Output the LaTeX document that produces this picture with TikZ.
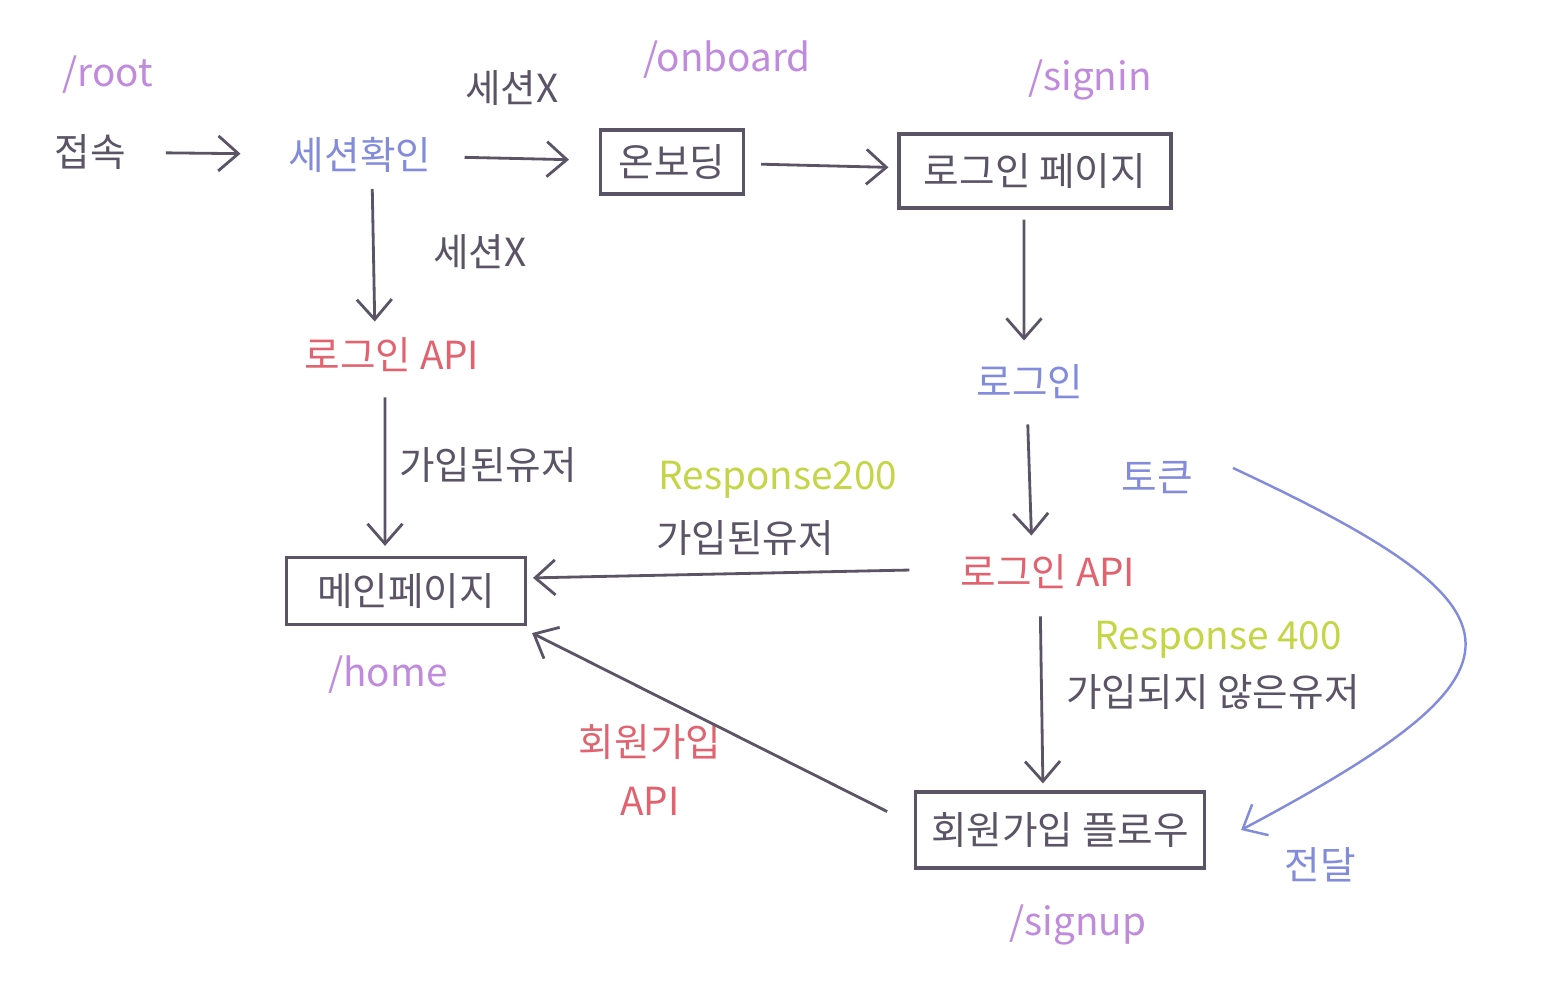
\documentclass[tikz,border=0pt]{standalone}
\usepackage{fontspec}
\setmainfont{Noto Sans CJK KR}
\usepackage{tikz}
\usetikzlibrary{arrows.meta}

\definecolor{ink}{HTML}{5B5366}
\definecolor{routecol}{HTML}{C08BDD}
\definecolor{actcol}{HTML}{838BDB}
\definecolor{apicol}{HTML}{E0636F}
\definecolor{respcol}{HTML}{C4D545}

\begin{document}
\begin{tikzpicture}[x=0.02cm,y=-0.02cm,>={Straight Barb[length=4mm,width=7mm]},line width=1.6pt,
font=\fontsize{22}{34}\selectfont,every node/.style={inner sep=0pt},
screen/.style={draw=ink,text=ink,line width=1.8pt},
note/.style={text=ink},
route/.style={text=routecol},
act/.style={text=actcol},
apicall/.style={text=apicol},
resp/.style={text=respcol},
flow/.style={->,draw=ink}]
\useasboundingbox (0,0) rectangle (1556,999);

\node[route] (rootpath) at (108,75) {/root};
\node[note] (enter) at (90,152) {접속};
\node[act] (check) at (360,155) {세션확인};
\node[route] (onbpath) at (727,60) {/onboard};
\node[screen,minimum width=2.86cm,minimum height=1.28cm] (onboard) at (672,162) {온보딩};
\node[route] (signinpath) at (1090,80) {/signin};
\node[screen,minimum width=5.44cm,minimum height=1.48cm] (signin) at (1035,171) {로그인 페이지};
\node[apicall] (loginA) at (392,355) {로그인 API};
\node[screen,minimum width=4.78cm,minimum height=1.34cm] (main) at (406,591) {메인페이지};
\node[route] (homepath) at (388,675) {/home};
\node[act] (click) at (1030,382) {로그인};
\node[apicall] (loginB) at (1048,572) {로그인 API};
\node[screen,minimum width=5.78cm,minimum height=1.52cm] (signup) at (1060,830) {회원가입 플로우};
\node[route] (signuppath) at (1078,925) {/signup};
\node[act] (token) at (1157,478) {토큰};
\node[act] (pass) at (1320,865) {전달};

\node[note] (nosessA) at (512,88) {세션X};
\node[note] (nosessB) at (480,252) {세션X};
\node[note] (joinedA) at (488,465) {가입된유저};
\node[resp] (ok) at (778,480) {Response200};
\node[note] (joinedB) at (745,538) {가입된유저};
\node[resp] (bad) at (1218,640) {Response 400};
\node[note] (notjoined) at (1213,692) {가입되지 않은유저};
\node[apicall,align=center] (joinapi) at (650,770) {회원가입\\API};

\draw[flow,shorten <=0.78cm,shorten >=0.94cm] (enter) -- (check);
\draw[flow,shorten <=0.64cm,shorten >=0.6cm] (check) -- (onboard);
\draw[flow,shorten <=0.32cm,shorten >=0.18cm] (onboard) -- (signin);
\draw[flow,shorten <=0.3cm,shorten >=0.3cm] ([xshift=0.24cm]check.south) -- ([xshift=-0.34cm]loginA.north);
\draw[flow,shorten <=0.48cm,shorten >=0.2cm] ([xshift=-0.14cm]loginA.south) -- ([xshift=-0.42cm]main.north);
\draw[flow,shorten <=0.2cm,shorten >=0.46cm] ([xshift=-0.22cm]signin.south) -- ([xshift=-0.12cm]click.north);
\draw[flow,shorten <=0.48cm,shorten >=0.36cm] ([xshift=-0.06cm]click.south) -- ([xshift=-0.32cm]loginB.north);
\draw[flow,shorten <=1.0cm,shorten >=0.12cm] ([yshift=0.06cm]loginB.west) -- ([yshift=0.26cm]main.east);
\draw[flow,shorten <=0.52cm,shorten >=0.14cm] ([xshift=-0.16cm]loginB.south) -- ([xshift=-0.34cm]signup.north);
\draw[flow,shorten <=0.6cm] ([yshift=0.1cm]signup.west) -- ([shift={(0.1cm,-0.14cm)}]main.south east);
\draw[->,draw=actcol,line width=1.4pt] ([xshift=0.78cm,yshift=0.2cm]token.east) to[out=-25,in=28,looseness=2.4] ([xshift=0.7cm]signup.east);
\end{tikzpicture}
\end{document}
